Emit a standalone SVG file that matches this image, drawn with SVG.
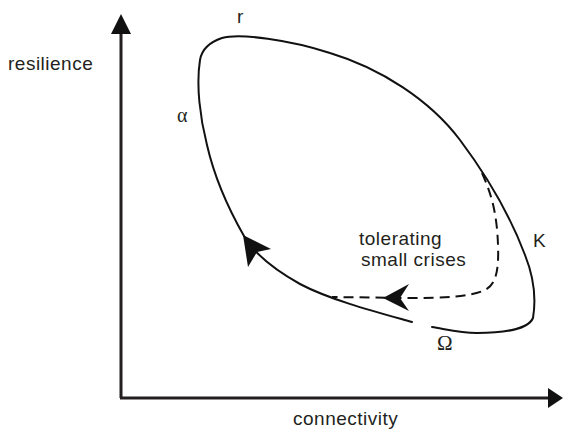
<svg xmlns="http://www.w3.org/2000/svg" width="563" height="430" viewBox="0 0 563 430">
<style>
.lbl{font-family:"Liberation Sans",Arial,sans-serif;font-size:19px;letter-spacing:0.5px;fill:#231f20}
.greek{font-family:"Liberation Serif","Times New Roman",serif;fill:#231f20}
.axis{stroke:#231f20;stroke-width:3;fill:none}
.cyc{stroke:#111;stroke-width:2;fill:none;stroke-linecap:round}
.dash{stroke:#111;stroke-width:2;fill:none;stroke-dasharray:10,6}
.head{fill:#111}
</style>
<rect width="563" height="430" fill="#fff"/>
<g id="axes">
<line class="axis" x1="121" y1="398" x2="121" y2="30"/>
<polygon class="head" points="121,14 131,34 111,34"/>
<line class="axis" x1="120" y1="398" x2="550" y2="398"/>
<polygon class="head" points="563,398 548,388 548,408"/>
</g>
<g id="connectors">
<path id="cycle" class="cyc" d="M412,322 C380,313 330,300 300,284 C275,270 255,255 244,236 C232,215 215,180 207,145 C200,118 196,85 200,60 C202,48 210,42 222,38 C240,33 290,40 330,53 C380,68 430,100 460,140 C490,180 510,215 525,255 C535,280 536,300 533,318 C528,330 500,333 477,333 C460,333 445,329 432,327"/>
<polygon class="head" points="243,235 271,249 257,252 248,267"/>
<path id="crises" class="dash" d="M482,173 C492,195 497,215 498,245 C499,270 496,285 485,290 C470,297 440,298 410,298 L332,297"/>
<polygon class="head" points="383,298 409,284 400,298 409,311"/>
</g>
<g id="labels">
<text class="lbl" x="8" y="70">resilience</text>
<text class="lbl" x="293" y="425">connectivity</text>
<text class="lbl" x="237" y="23">r</text>
<text class="lbl" x="533" y="247">K</text>
<text class="greek" x="177" y="122" font-size="20">α</text>
<text class="greek" x="437" y="350" font-size="21">Ω</text>
<text class="lbl" x="359" y="245">tolerating</text>
<text class="lbl" x="361" y="266">small crises</text>
</g>
</svg>
